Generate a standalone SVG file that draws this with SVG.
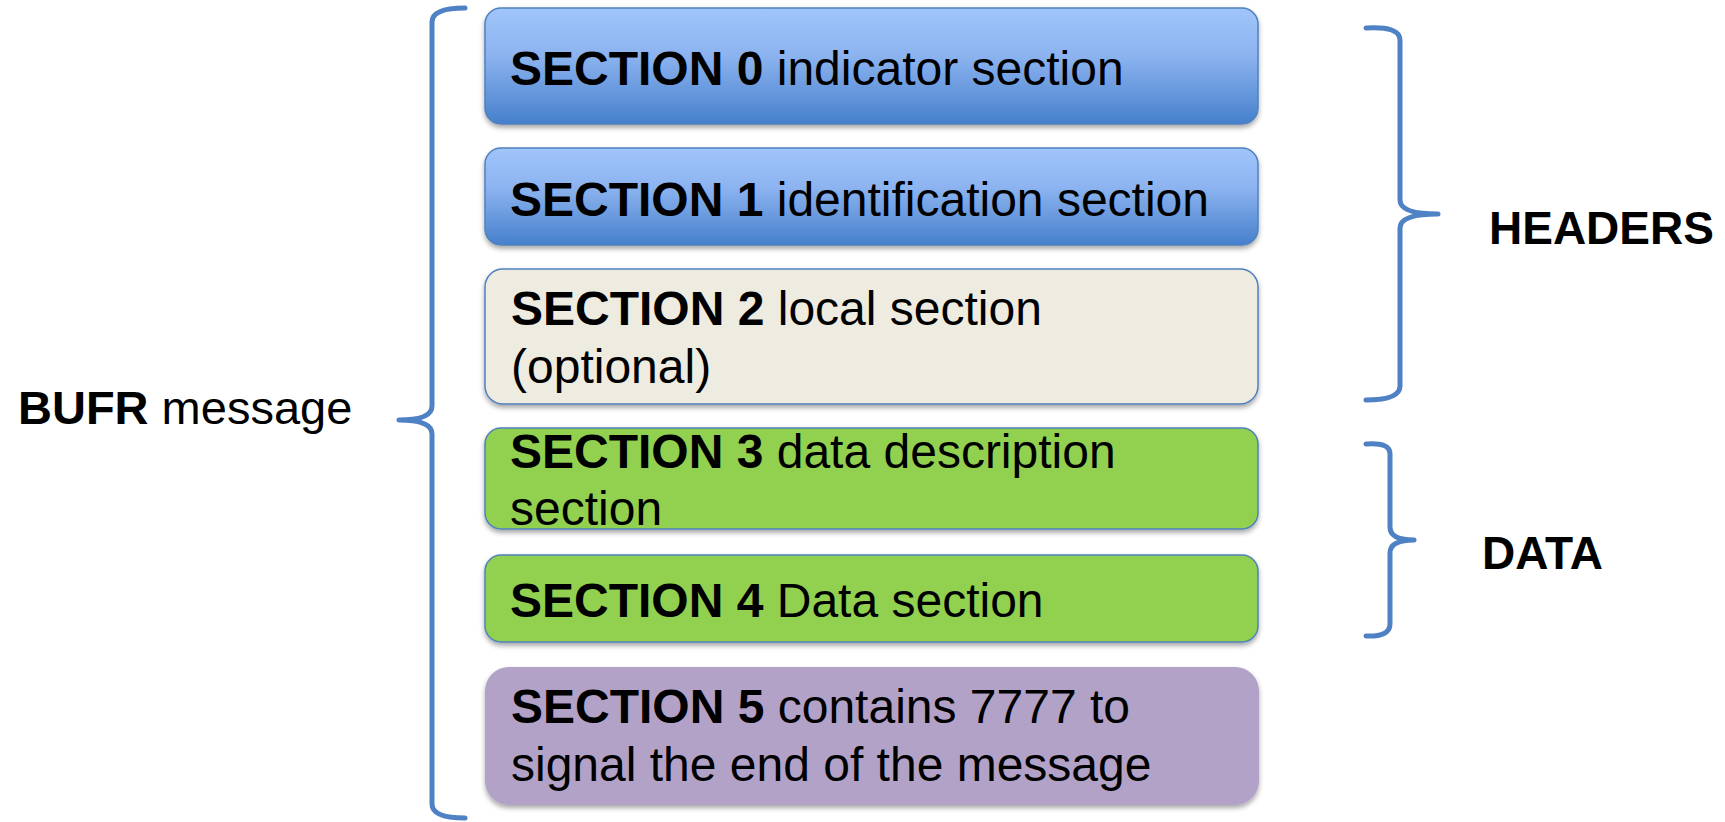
<svg xmlns="http://www.w3.org/2000/svg" width="1725" height="822" viewBox="0 0 1725 822">
  <defs>
    <linearGradient id="blueGrad" x1="0" y1="0" x2="0" y2="1">
      <stop offset="0" stop-color="#A0C5FB"/>
      <stop offset="0.4" stop-color="#8DB4F0"/>
      <stop offset="1" stop-color="#4680CC"/>
    </linearGradient>
    <filter id="shadow" x="-5%" y="-20%" width="110%" height="150%">
      <feDropShadow dx="0" dy="3" stdDeviation="2.5" flood-color="#000" flood-opacity="0.35"/>
    </filter>
  </defs>
  <style>
    text { font-family: "Liberation Sans", Arial, sans-serif; fill: #000; }
    .t { font-size: 48px; }
    .lbl { font-size: 46px; font-weight: bold; }
    .b { font-weight: bold; }
    .box { stroke: #4F81BD; stroke-width: 1.5; filter: url(#shadow); }
    .blue { fill: url(#blueGrad); }
    .beige { fill: #EEEBE1; }
    .green { fill: #92D050; }
    .purple { fill: #B2A2C8; stroke: none; }
    .brace { fill: none; stroke: #4F81C5; stroke-width: 5; stroke-linecap: round; stroke-linejoin: round; }
  </style>

  <g id="connectors">
    <path class="brace" d="M 465 8 Q 432 8 432 22 L 432 406 Q 432 420 399 420 Q 432 420 432 434 L 432 804 Q 432 818 465 818"/>
    <path class="brace" d="M 1366 28 Q 1400 26 1400 40 L 1400 200 Q 1400 214 1438 214 Q 1400 214 1400 228 L 1400 386 Q 1400 400 1366 400"/>
    <path class="brace" d="M 1366 444 Q 1390 442 1390 454 L 1390 527 Q 1390 540 1414 540 Q 1390 540 1390 553 L 1390 624 Q 1390 637 1366 636"/>
  </g>

  <g id="bufr-label">
    <text class="t" x="18" y="424" style="font-size:47px"><tspan class="b">BUFR</tspan> message</text>
  </g>

  <g id="section0">
    <rect class="box blue" x="485" y="8" width="773" height="116" rx="16" ry="16"/>
    <text class="t" x="510" y="85"><tspan class="b">SECTION 0</tspan> indicator section</text>
  </g>

  <g id="section1">
    <rect class="box blue" x="485" y="148" width="773" height="97" rx="16" ry="16"/>
    <text class="t" x="510" y="216"><tspan class="b">SECTION 1</tspan> identification section</text>
  </g>

  <g id="section2">
    <rect class="box beige" x="485" y="269" width="773" height="135" rx="18" ry="18"/>
    <text class="t" x="511" y="325"><tspan class="b">SECTION 2</tspan> local section</text>
    <text class="t" x="511" y="383">(optional)</text>
  </g>

  <g id="section3">
    <rect class="box green" x="485" y="428" width="773" height="101" rx="16" ry="16"/>
    <text class="t" x="510" y="468"><tspan class="b">SECTION 3</tspan> data description</text>
    <text class="t" x="510" y="525">section</text>
  </g>

  <g id="section4">
    <rect class="box green" x="485" y="555" width="773" height="87" rx="16" ry="16"/>
    <text class="t" x="510" y="617"><tspan class="b">SECTION 4</tspan> Data section</text>
  </g>

  <g id="section5">
    <rect class="box purple" x="485" y="667" width="774" height="138" rx="24" ry="24"/>
    <text class="t" x="511" y="723"><tspan class="b">SECTION 5</tspan> contains 7777 to</text>
    <text class="t" x="511" y="781">signal the end of the message</text>
  </g>

  <g id="headers-label">
    <text class="lbl" x="1489" y="244">HEADERS</text>
  </g>

  <g id="data-label">
    <text class="lbl" x="1482" y="569">DATA</text>
  </g>
</svg>
